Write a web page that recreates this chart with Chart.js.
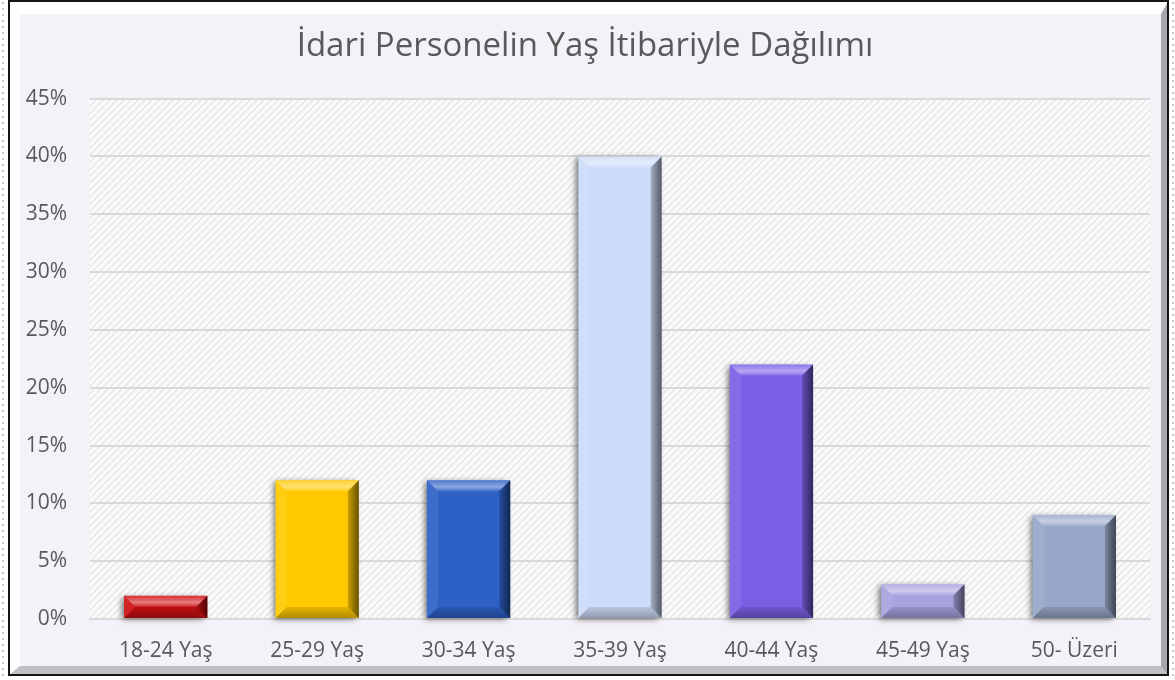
<!DOCTYPE html>
<html>
<head>
<meta charset="utf-8">
<script src="https://cdn.jsdelivr.net/npm/chart.js@4.4.1/dist/chart.umd.min.js"></script>
<style>
  html, body { margin: 0; padding: 0; }
  body {
    width: 1175px; height: 680px; overflow: hidden; position: relative;
    background-color: #fff;
    background-image: radial-gradient(#c8c8c8 0.8px, transparent 1.4px);
    background-size: 6px 6px;
  }
  #frame {
    position: absolute; left: 8px; top: 0; width: 1141px; height: 652px;
    background: #f5f1f8;
    border-top: 14px solid #ffffff;
    border-left: 12px solid #fdfcfe;
    border-right: 8px solid #a9a5ad;
    border-bottom: 10px solid #c2bec6;
    outline: 2px solid #141414;
    outline-offset: -2px;
  }
  #chart { position: absolute; left: 0; top: 0; }
</style>
</head>
<body>
<div id="frame"></div>
<canvas id="chart" width="1175" height="680"></canvas>
<script>
const categories = ['18-24 Yaş', '25-29 Yaş', '30-34 Yaş', '35-39 Yaş', '40-44 Yaş', '45-49 Yaş', '50- Üzeri'];
const values = [2, 12, 12, 40, 22, 3, 9];
const barColors = ['#cf1014', '#ffc901', '#2d61c6', '#cddcf9', '#7b5fe5', '#a8a2df', '#98a8c9'];
const yTicks = [0, 5, 10, 15, 20, 25, 30, 35, 40, 45];

// hatch for the plot area
function hatch() {
  const c = document.createElement('canvas');
  c.width = 7; c.height = 7;
  const g = c.getContext('2d');
  g.fillStyle = '#fafafa';
  g.fillRect(0, 0, 7, 7);
  g.strokeStyle = '#e2e2e2';
  g.lineWidth = 1.2;
  g.beginPath();
  g.moveTo(-1, 8); g.lineTo(8, -1);
  g.moveTo(-1, 1); g.lineTo(1, -1);
  g.moveTo(6, 8); g.lineTo(8, 6);
  g.stroke();
  return g.createPattern(c, 'repeat');
}

const plotBg = {
  id: 'plotBg',
  beforeDraw(chart) {
    const a = chart.chartArea, ctx = chart.ctx;
    ctx.save();
    ctx.fillStyle = hatch();
    ctx.fillRect(a.left, a.top, a.right - a.left, a.bottom - a.top);
    ctx.restore();
  }
};

// shadow behind bars and bevel on top of them
const bevel = {
  id: 'bevel',
  beforeDatasetsDraw(chart) {
    const ctx = chart.ctx;
    chart.getDatasetMeta(0).data.forEach(bar => {
      const l = bar.x - bar.width / 2, h = bar.base - bar.y;
      ctx.save();
      ctx.shadowColor = 'rgba(0,0,0,0.55)';
      ctx.shadowBlur = 6;
      ctx.shadowOffsetX = -3;
      ctx.shadowOffsetY = 1;
      ctx.fillStyle = '#333';
      ctx.fillRect(l + 1, bar.y + 1, bar.width - 2, h - 1);
      ctx.restore();
    });
  },
  afterDatasetsDraw(chart) {
    const ctx = chart.ctx;
    chart.getDatasetMeta(0).data.forEach(bar => {
      const l = bar.x - bar.width / 2, r = bar.x + bar.width / 2;
      const t = bar.y, b = bar.base;
      const d = Math.min(11, (b - t) / 2);
      const quad = (pts, fill) => {
        ctx.beginPath();
        ctx.moveTo(pts[0], pts[1]);
        for (let i = 2; i < pts.length; i += 2) ctx.lineTo(pts[i], pts[i + 1]);
        ctx.closePath();
        ctx.fillStyle = fill;
        ctx.fill();
      };
      ctx.save();
      // top
      let g = ctx.createLinearGradient(0, t, 0, t + d);
      g.addColorStop(0, 'rgba(255,255,255,0.15)');
      g.addColorStop(0.6, 'rgba(255,255,255,0.45)');
      g.addColorStop(1, 'rgba(255,255,255,0.1)');
      quad([l, t, r, t, r - d, t + d, l + d, t + d], g);
      // left
      quad([l, t, l + d, t + d, l + d, b - d, l, b], 'rgba(255,255,255,0.08)');
      // right
      g = ctx.createLinearGradient(r - d, 0, r, 0);
      g.addColorStop(0, 'rgba(0,0,0,0.2)');
      g.addColorStop(1, 'rgba(0,0,0,0.6)');
      quad([r, t, r, b, r - d, b - d, r - d, t + d], g);
      // bottom
      g = ctx.createLinearGradient(0, b - d, 0, b);
      g.addColorStop(0, 'rgba(0,0,0,0.1)');
      g.addColorStop(1, 'rgba(0,0,0,0.3)');
      quad([l, b, l + d, b - d, r - d, b - d, r, b], g);
      ctx.restore();
    });
  }
};

new Chart(document.getElementById('chart'), {
  type: 'bar',
  data: {
    labels: categories,
    datasets: [{
      data: values,
      backgroundColor: barColors,
      borderWidth: 0,
      barPercentage: 0.55,
      categoryPercentage: 1
    }]
  },
  plugins: [plotBg, bevel],
  options: {
    responsive: false,
    animation: false,
    layout: { padding: { left: 20, right: 25, top: 0, bottom: 10 } },
    plugins: {
      legend: { display: false },
      tooltip: { enabled: false },
      title: {
        display: true,
        text: 'İdari Personelin Yaş İtibariyle Dağılımı',
        color: '#595959',
        font: { family: 'Open Sans', size: 33, weight: 'normal' },
        padding: { top: 27, bottom: 32 }
      }
    },
    scales: {
      x: {
        grid: { display: false, drawTicks: false },
        border: { display: true, color: '#d9d9d9', width: 2 },
        ticks: { color: '#595959', font: { family: 'Open Sans', size: 21 }, padding: 19 },
        afterFit(s) { s.height = 51; }
      },
      y: {
        min: 0,
        max: 45,
        afterBuildTicks(s) { s.ticks = yTicks.map(v => ({ value: v })); },
        grid: { color: '#d9d9d9', lineWidth: 2, drawTicks: false },
        border: { display: false },
        ticks: {
          color: '#595959',
          font: { family: 'Open Sans', size: 21 },
          padding: 23,
          callback: v => v + '%'
        },
        afterFit(s) { s.width = 70; }
      }
    }
  }
});
</script>
</body>
</html>
